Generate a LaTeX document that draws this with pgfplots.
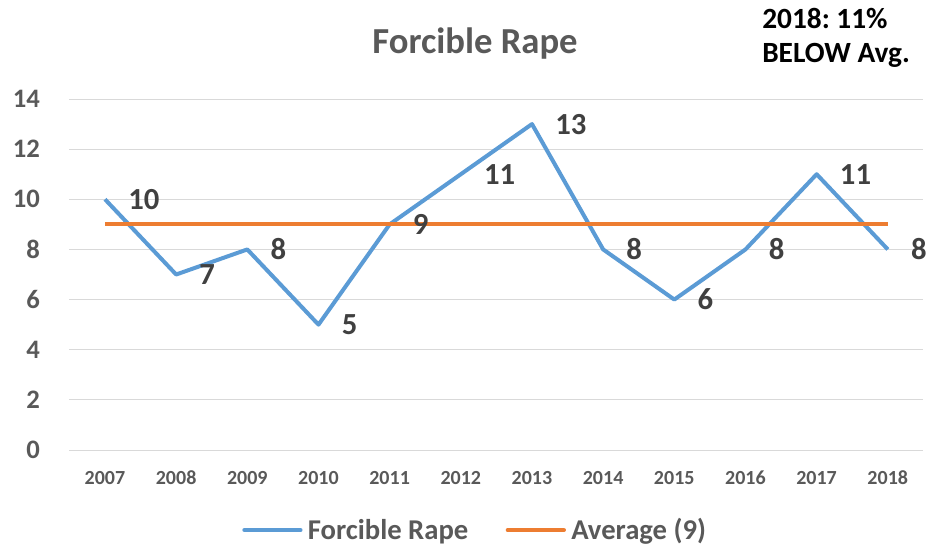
\documentclass[border=0pt]{standalone}
\usepackage{pgfplots}
\pgfplotsset{compat=1.18}
\usepackage{fontspec}
\setmainfont{Carlito}
\definecolor{cblue}{HTML}{5B9BD5}
\definecolor{corange}{HTML}{ED7D31}
\definecolor{tgray}{HTML}{595959}
\definecolor{dgray}{HTML}{404040}
\definecolor{agray}{HTML}{D9D9D9}
\begin{document}
\frenchspacing
\begin{tikzpicture}
\path[use as bounding box] (0,0) rectangle (697.5pt,413.25pt);
\begin{axis}[
  at={(52.05pt,75.75pt)}, anchor=origin,
  scale only axis, width=640.5pt, height=263.25pt,
  xmin=2006.5, xmax=2018.5, ymin=0, ymax=14,
  xtick={2007,...,2018}, ytick={0,2,...,14},
  xticklabel style={/pgf/number format/1000 sep={}},
  /pgf/number format/assume math mode=true,
  axis line style={draw=none},
  ymajorgrids, grid style={draw=agray, line width=0.75pt},
  major tick length=0pt,
  x tick label style={font=\fontsize{15}{18}\selectfont\bfseries, text=tgray, anchor=base, inner sep=0pt, yshift=-26pt},
  y tick label style={font=\fontsize{20}{24}\selectfont\bfseries, text=tgray, anchor=east, inner sep=0pt, xshift=-22pt},
  legend style={at={(0.4755,-0.228)}, anchor=center, draw=none, legend columns=2,
     font=\fontsize{21.5}{25}\selectfont\bfseries, text=tgray, inner sep=0pt,
     /tikz/every odd column/.append style={column sep=2pt},
     /tikz/every even column/.append style={column sep=26pt}},
  legend image code/.code={\draw[#1, line width=3.2pt, line cap=round] (0pt,0pt) -- (42pt,0pt);},
  clip=false,
]
\addplot[cblue, line width=3pt, line join=round,
  nodes near coords, every node near coord/.append style={anchor=west, inner sep=0pt, xshift=16pt,
  font=\fontsize{23}{27}\selectfont\bfseries, text=dgray}]
 coordinates {(2007,10) (2008,7) (2009,8) (2010,5) (2011,9) (2012,11) (2013,13) (2014,8) (2015,6) (2016,8) (2017,11) (2018,8)};
\addlegendentry{Forcible Rape}
\addplot[corange, line width=3.2pt]
 coordinates {(2007,9) (2008,9) (2009,9) (2010,9) (2011,9) (2012,9) (2013,9) (2014,9) (2015,9) (2016,9) (2017,9) (2018,9)};
\addlegendentry{Average (9)}
\node[font=\fontsize{27.5}{32}\selectfont\bfseries, text=tgray, anchor=base, inner sep=0pt] at (rel axis cs:0.475,1.131) {Forcible Rape};
\node[font=\fontsize{22}{25.5}\selectfont\bfseries, align=left, anchor=base west, inner sep=0pt] at (rel axis cs:0.811,1.1026) {2018: 11\%\\BELOW Avg.};
\end{axis}
\end{tikzpicture}
\end{document}
